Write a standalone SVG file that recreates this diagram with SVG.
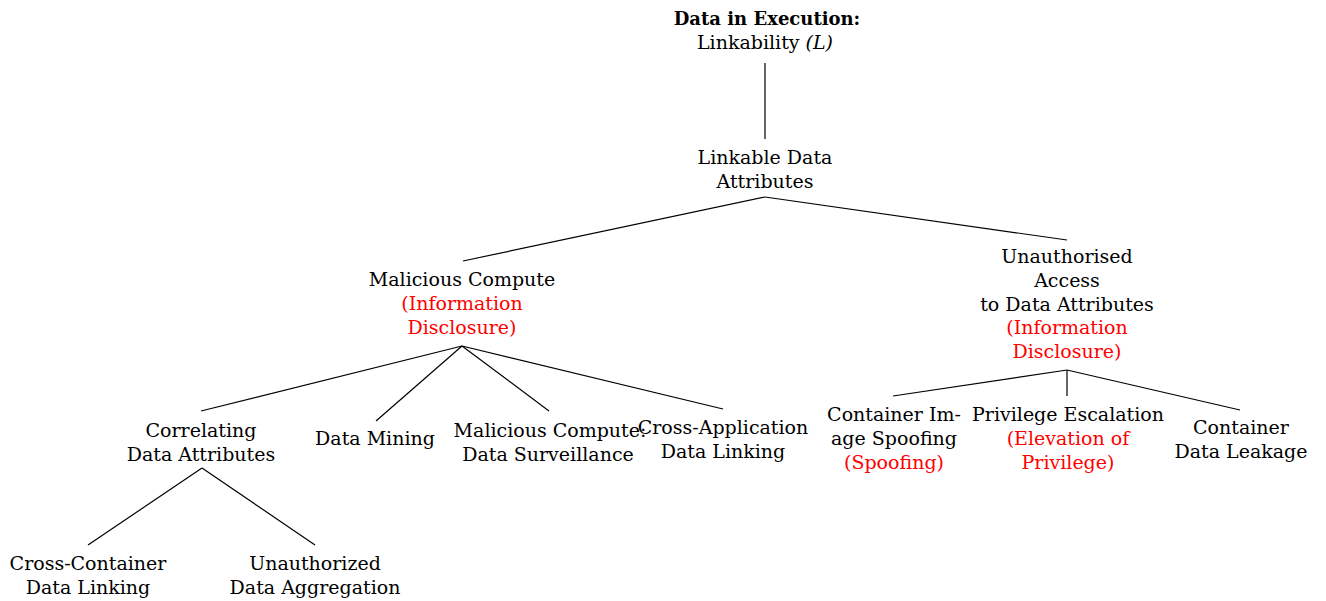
<svg xmlns="http://www.w3.org/2000/svg" width="1326" height="601" viewBox="0 0 1326 601">
<style>
  text { font-family: "DejaVu Serif", "Liberation Serif", serif; font-size: 19px; fill: #000; text-anchor: middle; }
  .b { font-weight: bold; font-size: 18px; }
  .r { fill: #ff0000; }
  .e { stroke: #000; stroke-width: 1.2; fill: none; }
</style>
<rect width="1326" height="601" fill="#fff"/>
<g id="connectors">
  <line class="e" x1="765" y1="63" x2="765" y2="139"/>
  <line class="e" x1="765" y1="197" x2="463" y2="261"/>
  <line class="e" x1="765" y1="197" x2="1067" y2="240"/>
  <line class="e" x1="462" y1="346" x2="201" y2="411"/>
  <line class="e" x1="462" y1="346" x2="376" y2="421"/>
  <line class="e" x1="462" y1="346" x2="549" y2="411"/>
  <line class="e" x1="462" y1="346" x2="723" y2="409"/>
  <line class="e" x1="1067" y1="370" x2="893" y2="396"/>
  <line class="e" x1="1067" y1="370" x2="1067" y2="396"/>
  <line class="e" x1="1067" y1="370" x2="1240" y2="410"/>
  <line class="e" x1="202" y1="468" x2="88" y2="545"/>
  <line class="e" x1="202" y1="468" x2="315" y2="545"/>
</g>
<g id="root">
  <text class="b" x="767" y="25">Data in Execution:</text>
  <text x="765" y="49">Linkability <tspan font-style="italic">(L)</tspan></text>
</g>
<g id="linkable">
  <text x="765" y="164">Linkable Data</text>
  <text x="765" y="188">Attributes</text>
</g>
<g id="malicious-compute">
  <text x="462" y="286">Malicious Compute</text>
  <text class="r" x="462" y="310">(Information</text>
  <text class="r" x="462" y="334">Disclosure)</text>
</g>
<g id="unauthorised-access">
  <text x="1067" y="263">Unauthorised</text>
  <text x="1067" y="287">Access</text>
  <text x="1067" y="311">to Data Attributes</text>
  <text class="r" x="1067" y="334">(Information</text>
  <text class="r" x="1067" y="358">Disclosure)</text>
</g>
<g id="correlating">
  <text x="201" y="437">Correlating</text>
  <text x="201" y="461">Data Attributes</text>
</g>
<g id="data-mining">
  <text x="375" y="445">Data Mining</text>
</g>
<g id="data-surveillance">
  <text x="550" y="437">Malicious Compute:</text>
  <text x="548" y="461">Data Surveillance</text>
</g>
<g id="cross-application">
  <text x="723" y="434">Cross-Application</text>
  <text x="723" y="458">Data Linking</text>
</g>
<g id="container-image-spoofing">
  <text x="894" y="421">Container Im-</text>
  <text x="894" y="445">age Spoofing</text>
  <text class="r" x="894" y="469">(Spoofing)</text>
</g>
<g id="privilege-escalation">
  <text x="1068" y="421">Privilege Escalation</text>
  <text class="r" x="1068" y="445">(Elevation of</text>
  <text class="r" x="1068" y="469">Privilege)</text>
</g>
<g id="container-data-leakage">
  <text x="1241" y="434">Container</text>
  <text x="1241" y="458">Data Leakage</text>
</g>
<g id="cross-container">
  <text x="88" y="570">Cross-Container</text>
  <text x="88" y="594">Data Linking</text>
</g>
<g id="unauthorized-aggregation">
  <text x="315" y="570">Unauthorized</text>
  <text x="315" y="594">Data Aggregation</text>
</g>
</svg>
